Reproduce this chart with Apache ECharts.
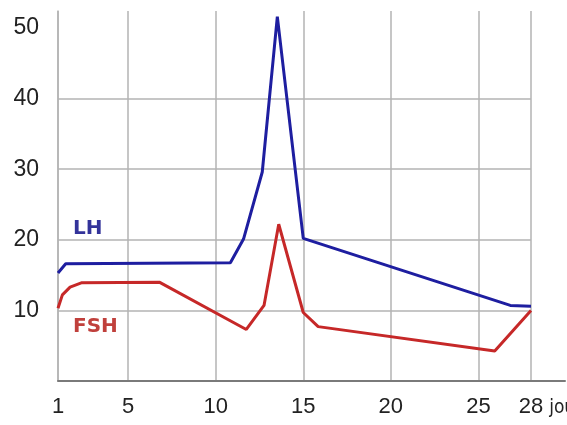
<!DOCTYPE html>
<html><head><meta charset="utf-8">
<script src="https://cdn.jsdelivr.net/npm/echarts@6/dist/echarts.min.js"></script>
<style>html,body{margin:0;padding:0;background:#fff}#c{width:567px;height:425px}</style>
</head><body><div id="c"></div>
<script>
const xTickLabels = [1, 5, 10, 15, 20, 25, 28];
const yTickLabels = [10, 20, 30, 40, 50];
const lhDays   = [1, 1.44, 10.84, 11.59, 12.66, 13.52, 15, 26.82, 28];
const lhValues = [15.3, 16.6, 16.75, 20.1, 29.6, 51.6, 20.2, 10.7, 10.6];
const fshDays   = [1, 1.25, 1.69, 2.33, 6.78, 11.75, 12.76, 13.6, 15, 15.85, 25.93, 28];
const fshValues = [10.3, 12.2, 13.3, 13.9, 14.0, 7.3, 10.7, 22.2, 9.7, 7.7, 4.25, 10.0];

const chart = echarts.init(document.getElementById('c'), null, {renderer: 'canvas'});
const gridColor = '#b3b3b3';
const labelFont = {fontFamily: 'Liberation Sans, Arial, sans-serif', color: '#222'};
const option = {
  animation: false,
  backgroundColor: '#fff',
  grid: [
    {left: 58, right: 36, top: 11, bottom: 44, outerBoundsMode: 'none', containLabel: false},
    {left: 58, right: 2, top: 11, bottom: 44, outerBoundsMode: 'none', containLabel: false}
  ],
  xAxis: [
    {
      type: 'value', gridIndex: 0, min: 1, max: 28,
      axisLine: {show: false, onZero: false},
      axisTick: {show: false, customValues: xTickLabels},
      axisLabel: Object.assign({customValues: xTickLabels, fontSize: 22, margin: 15}, labelFont),
      splitLine: {show: true, lineStyle: {color: gridColor, width: 1.5}},
      name: 'jours', nameLocation: 'end', nameGap: 17,
      nameTextStyle: {fontSize: 19, color: '#222', fontFamily: 'Liberation Sans Narrow, DejaVu Sans Condensed, Liberation Sans, sans-serif', verticalAlign: 'top', align: 'left', padding: [18, 0, 0, 0]}
    },
    {
      type: 'value', gridIndex: 1, min: 0, max: 1,
      axisLine: {show: true, onZero: false, lineStyle: {color: '#7a7a7a', width: 2}},
      axisTick: {show: false}, axisLabel: {show: false}, splitLine: {show: false}
    }
  ],
  yAxis: [
    {
      type: 'value', gridIndex: 0, min: 0, max: 52.4, interval: 10,
      axisLine: {show: true, onZero: false, lineStyle: {color: gridColor, width: 1.5}},
      axisTick: {show: false, customValues: [0].concat(yTickLabels)},
      axisLabel: Object.assign({customValues: yTickLabels, fontSize: 23, margin: 19}, labelFont),
      splitLine: {show: true, showMaxLine: false, lineStyle: {color: gridColor, width: 1.5}}
    },
    {type: 'value', gridIndex: 1, min: 0, max: 1, show: false}
  ],
  series: [
    {
      name: 'LH', type: 'line', xAxisIndex: 0, yAxisIndex: 0,
      data: lhDays.map((d, i) => [d, lhValues[i]]),
      showSymbol: false, symbol: 'none',
      lineStyle: {color: '#1e1ea0', width: 3}, z: 3
    },
    {
      name: 'FSH', type: 'line', xAxisIndex: 0, yAxisIndex: 0,
      data: fshDays.map((d, i) => [d, fshValues[i]]),
      showSymbol: false, symbol: 'none',
      lineStyle: {color: '#c62828', width: 3}, z: 3
    }
  ],
  graphic: [
    {type: 'text', left: 73, top: 219, style: {text: 'LH', fill: '#33339a', font: 'bold 20px "DejaVu Sans", Verdana, sans-serif'}},
    {type: 'text', left: 73, top: 317, style: {text: 'FSH', fill: '#c0403c', font: 'bold 20px "DejaVu Sans", Verdana, sans-serif'}}
  ]
};
chart.setOption(option);
</script>
</body></html>
